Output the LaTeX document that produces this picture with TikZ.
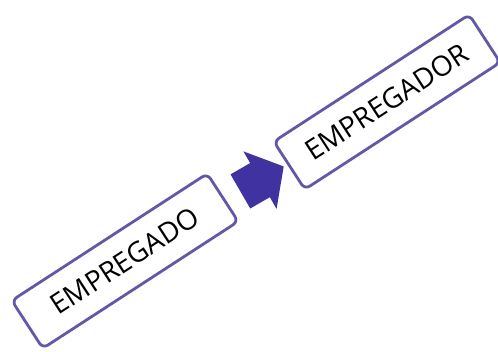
\documentclass[tikz,border=0pt]{standalone}
\usepackage{fontspec}
\setmainfont{Open Sans}
\usetikzlibrary{shapes.arrows}
\definecolor{boxline}{RGB}{98,88,168}
\definecolor{arrowfill}{RGB}{64,50,160}

\begin{document}
\begin{tikzpicture}[x=1pt,y=-1pt]
      \useasboundingbox (0,0) rectangle (498,351);

      \begin{scope}[shape=rectangle,rounded corners=6pt,minimum width=233pt,minimum height=57pt]
          \tikzstyle{every node}=[draw=boxline,line width=2.8pt,fill=white,rotate=33,font=\fontsize{28}{32}\selectfont]
          \node (empregado)  at (125,261) {EMPREGADO};
          \node (empregador) at (387,102) {EMPREGADOR};
      \end{scope}

      \node[single arrow,fill=arrowfill,rotate=30,inner xsep=0pt,inner ysep=19.5pt,minimum height=50pt,
            single arrow head extend=13.5pt,single arrow tip angle=101] (seta) at (255,183) {};
  \end{tikzpicture}
\end{document}
